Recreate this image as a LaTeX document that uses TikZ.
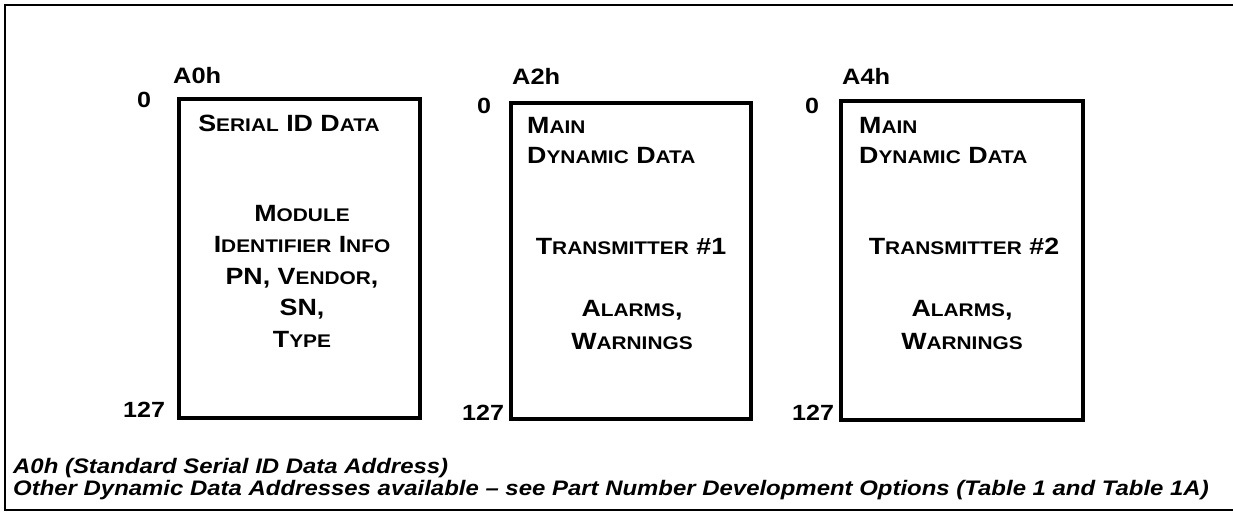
\documentclass[tikz,border=0pt]{standalone}
\usepackage{fontspec}
\setmainfont{Liberation Sans}[FakeStretch=1.14]
\newcommand{\lowsc}[1]{{\fontsize{18.3}{20}\selectfont #1}}

\begin{document}
\begin{tikzpicture}[x=1pt, y=-1pt,
  membox/.style={draw, line width=3.5pt, inner sep=0pt},
  boxtext/.style={inner sep=0pt, font=\bfseries\fontsize{23.5}{31.5}\selectfont},
  addr/.style={inner sep=0pt, anchor=base west, font=\bfseries\fontsize{22.3}{25}\selectfont},
  offs/.style={inner sep=0pt, anchor=base west, font=\bfseries\fontsize{22}{26}\selectfont},
  note/.style={inner sep=0pt, anchor=base west, font=\bfseries\itshape\fontsize{21}{25}\selectfont}]
  \useasboundingbox (0,0) rectangle (1233,512);
  % frame, open on the right
  \draw[line width=2.8pt] (1233,5) -- (5,5) -- (5,510) -- (1233,510);
  % the three memory maps
  \node[membox, anchor=north west, minimum width=241pt, minimum height=319pt] (a0) at (177,97) {};
  \node[membox, anchor=north west, minimum width=240pt, minimum height=316pt] (a2) at (509,101) {};
  \node[membox, anchor=north west, minimum width=242pt, minimum height=319pt] (a4) at (839,99) {};
  % addresses and offsets
  \node[addr] (a0name) at (173,83) {A0h};
  \node[addr] (a2name) at (512,84) {A2h};
  \node[addr] (a4name) at (842,84) {A4h};
  \node[offs] (a0top) at (137,107) {0};
  \node[offs] (a2top) at (477,113) {0};
  \node[offs] (a4top) at (805,113) {0};
  \node[offs] (a0end) at (123,417) {127};
  \node[offs] (a2end) at (462,420) {127};
  \node[offs] (a4end) at (792,420) {127};
  % A0h contents
  \node[boxtext, anchor=north] (serial) at (289,115) {S\lowsc{ERIAL} ID D\lowsc{ATA}};
  \node[boxtext, anchor=north, align=center] (module) at (302,205)
    {M\lowsc{ODULE}\\I\lowsc{DENTIFIER} I\lowsc{NFO}\\PN, V\lowsc{ENDOR},\\SN,\\T\lowsc{YPE}};
  % A2h contents
  \node[boxtext, anchor=north west, align=left, font=\bfseries\fontsize{23.5}{30.5}\selectfont] (main1) at (527,117)
    {M\lowsc{AIN}\\D\lowsc{YNAMIC} D\lowsc{ATA}};
  \node[boxtext, anchor=north] (tx1) at (631,238) {T\lowsc{RANSMITTER} \#1};
  \node[boxtext, anchor=north, align=center, font=\bfseries\fontsize{23.5}{33}\selectfont] (alarm1) at (632,300)
    {A\lowsc{LARMS},\\W\lowsc{ARNINGS}};
  % A4h contents
  \node[boxtext, anchor=north west, align=left, font=\bfseries\fontsize{23.5}{30.5}\selectfont] (main2) at (859,117)
    {M\lowsc{AIN}\\D\lowsc{YNAMIC} D\lowsc{ATA}};
  \node[boxtext, anchor=north] (tx2) at (964,238) {T\lowsc{RANSMITTER} \#2};
  \node[boxtext, anchor=north, align=center, font=\bfseries\fontsize{23.5}{33}\selectfont] (alarm2) at (962,300)
    {A\lowsc{LARMS},\\W\lowsc{ARNINGS}};
  % notes
  \node[note] (note1) at (13,473) {A0h (Standard Serial ID Data Address)};
  \node[note] (note2) at (13,495) {Other Dynamic Data Addresses available -- see Part Number Development Options (Table 1 and Table 1A)};
\end{tikzpicture}
\end{document}
